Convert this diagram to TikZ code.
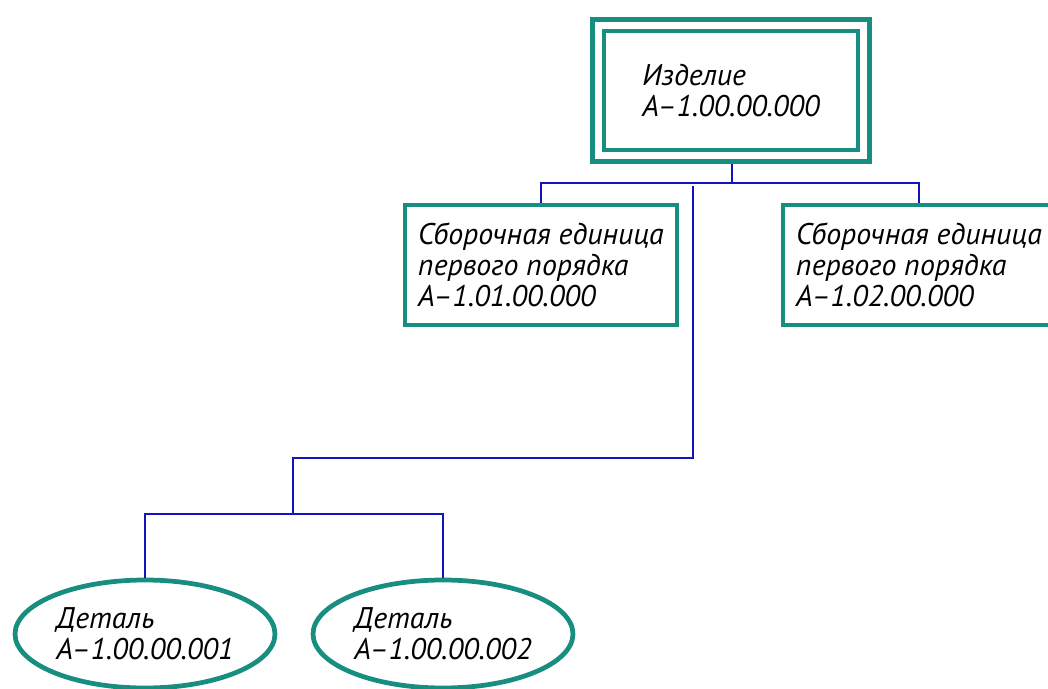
\documentclass[tikz,border=0pt]{standalone}
\usepackage{fontspec}
\setmainfont{PT Sans}
\usetikzlibrary{positioning, fit, shapes.geometric, calc}
\definecolor{frameteal}{RGB}{24,142,128}
\definecolor{linkblue}{RGB}{20,20,190}
\tikzset{
  every picture/.style={line width=0.8pt},
  unitbox/.style={draw=frameteal, line width=2.7pt, rectangle, align=left, inner sep=0pt},
  partoval/.style={draw=frameteal, line width=2.7pt, ellipse, align=left, inner sep=0pt,
    minimum width=5.2cm, minimum height=2.16cm},
  link/.style={draw=linkblue, line width=1.2pt},
  every node/.style={font=\fontsize{17}{17.6}\selectfont\itshape}
}
\begin{document}
\begin{tikzpicture}[x=0.02cm, y=-0.02cm]
    \clip (0,0) rectangle (1048,689);
    % product
    \node [unitbox, minimum width=5.08cm, minimum height=2.38cm] (top) at (731,90.5)
      {Изделие\\А–1.00.00.000};
    \node [draw=frameteal, line width=2.7pt, fit=(top), inner sep=0.19cm] (topframe) {};
    % assembly units
    \node [unitbox, minimum width=5.44cm, minimum height=2.4cm] (asm1) at (541,265)
      {Сборочная единица\\первого порядка\\А–1.01.00.000};
    \node [unitbox, minimum width=5.44cm, minimum height=2.4cm] (asm2) at (919,265)
      {Сборочная единица\\первого порядка\\А–1.02.00.000};
    % parts
    \node [partoval] (det1) at (145,634) {Деталь\\А–1.00.00.001};
    \node [partoval] (det2) at (443,634) {Деталь\\А–1.00.00.002};

    \coordinate (bus) at (732,183);
    \coordinate (drop) at (693,186);
    \coordinate (split) at (293,514);

    \draw [link] (topframe.south -| bus) -- (bus);
    \draw [link] (asm1.north) |- (bus) -| (asm2.north);
    \draw [link] (drop) -- ++(0,272) -| (split);
    \draw [link] (det1.north) |- (split) -| (det2.north);
\end{tikzpicture}
\end{document}
